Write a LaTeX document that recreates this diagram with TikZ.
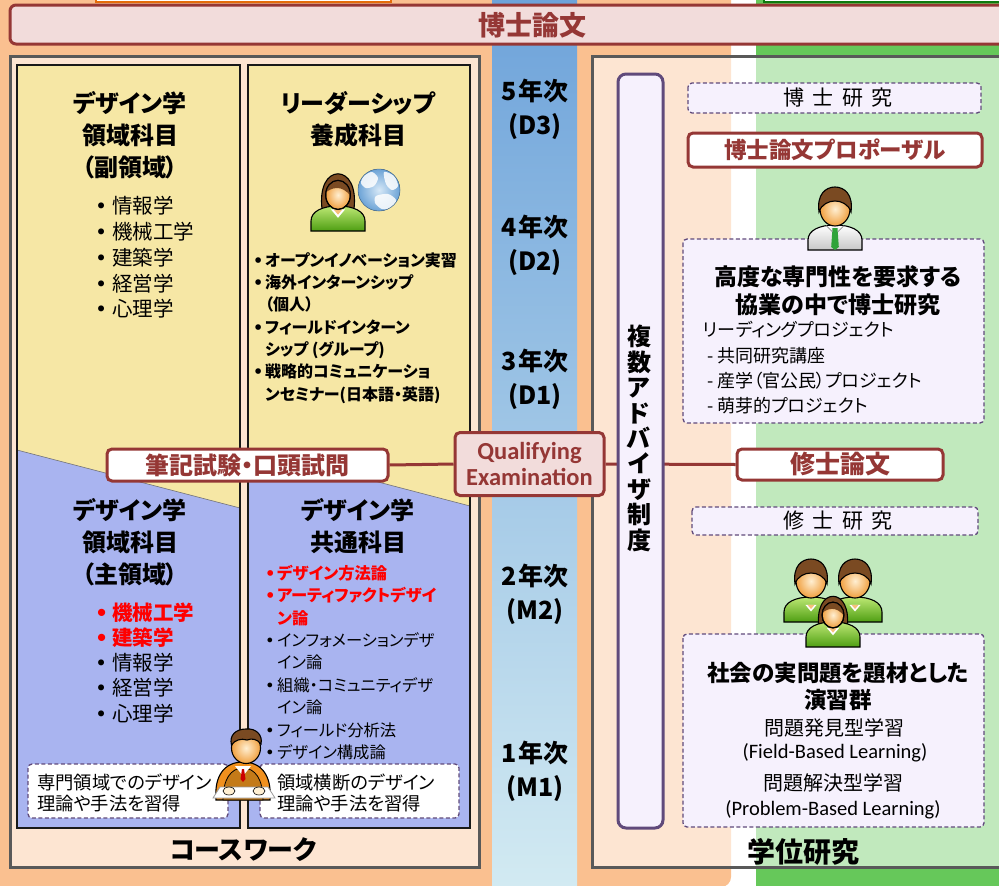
\documentclass[tikz,border=0pt]{standalone}
\usepackage{fontspec}
\setmainfont{Noto Sans CJK JP}[RawFeature=+palt]
\newfontfamily\latinfont{Carlito}
\newfontfamily\symbolfont{DejaVu Sans}
\usetikzlibrary{calc}

\definecolor{bgorange}{HTML}{FAC090}
\definecolor{bggreen}{HTML}{66C85A}
\definecolor{topframeorange}{HTML}{E46C0A}
\definecolor{topframegreen}{HTML}{0E7A0E}
\definecolor{colyellow}{HTML}{F6E7A5}
\definecolor{collav}{HTML}{A9B4F0}
\definecolor{darkred}{HTML}{953735}
\definecolor{pinkfill}{HTML}{F2DCDB}
\definecolor{purpleline}{HTML}{604A7B}
\definecolor{lavfill}{HTML}{F6F1FD}
\definecolor{framegray}{HTML}{595959}
\definecolor{stripblue}{HTML}{6EA3DA}
\definecolor{stripcyan}{HTML}{D2EAF2}
\definecolor{alertred}{HTML}{FF0000}
\definecolor{skinhi}{HTML}{FFEFD2}
\definecolor{skinlo}{HTML}{F0A040}
\definecolor{hairbrown}{HTML}{7A4A22}
\definecolor{shirthi}{HTML}{BDE874}
\definecolor{shirtlo}{HTML}{4E9E12}
\definecolor{tiegreen}{HTML}{2FA33A}
\definecolor{globelight}{HTML}{D6E8F7}
\definecolor{globeblue}{HTML}{6CA3D6}
\definecolor{sweater}{HTML}{C47A18}
\definecolor{capeorange}{HTML}{F0901E}

\newcommand\fsz[2]{\fontsize{#1}{#2}\selectfont}
\newcommand\bul{\makebox[20pt][l]{\hspace*{3pt}{\symbolfont •}}}
\newcommand\sbul{\makebox[12pt][l]{{\symbolfont •}}}
\newcommand\cont{\hspace*{12pt}}
\newcommand\alert[1]{{\color{alertred}\bfseries #1}}

\tikzset{
  iconline/.style={draw=black, line width=1.1pt},
  frame/.style={draw=framegray, line width=3pt, fill=white, fill opacity=0.6},
  colborder/.style={draw=black!90, line width=1.8pt},
  redbox/.style={draw=darkred, line width=3pt, fill=white, rounded corners=5pt,
    inner sep=0pt, text=darkred, font=\bfseries\fsz{24}{28}},
  dashbox/.style={draw=purpleline, line width=1.3pt, dash pattern=on 4pt off 2.5pt,
    fill=lavfill, rounded corners=4pt},
  notebox/.style={dashbox, fill=white},
  heading/.style={font=\bfseries\fsz{24}{32}, align=center, inner sep=0pt},
  yearlabel/.style={font=\bfseries\fsz{25}{34}, align=center, inner sep=0pt},
  plain/.style={inner sep=0pt},
  connector/.style={draw=darkred, line width=3pt},
  pics/shoulders/.style={code={
    \draw[iconline, #1] (-27,0) -- (-27,-10) .. controls (-27,-20) and (-15,-25) .. (0,-25)
      .. controls (15,-25) and (27,-20) .. (27,-10) -- (27,0) -- cycle;
  }},
  pics/malehead/.style={code={
    \draw[iconline, inner color=skinhi, outer color=skinlo] (0,-41) ellipse [x radius=15, y radius=17];
    \draw[iconline, fill=hairbrown] (-16,-38) .. controls (-18.5,-56) and (-9,-63) .. (0,-63)
      .. controls (9,-63) and (18.5,-56) .. (16,-38) .. controls (13.5,-46) and (6,-49) .. (0,-49)
      .. controls (-6,-49) and (-13.5,-46) .. (-16,-38) -- cycle;
  }},
  pics/manwithtie/.style={code={
    \pic {shoulders={top color=white, bottom color=black!22}};
    \fill[tiegreen] (-2.5,-22) -- (2.5,-22) -- (3.8,-3) -- (0,0) -- (-3.8,-3) -- cycle;
    \draw[black!45, line width=0.7pt] (-9,-24.5) -- (-2.5,-18) (9,-24.5) -- (2.5,-18);
    \pic {malehead};
  }},
  pics/mangreen/.style={code={
    \pic {shoulders={top color=shirthi, bottom color=shirtlo}};
    \fill[white] (-8,-24.5) -- (0,-15) -- (8,-24.5) -- cycle;
    \fill[skinlo!60!skinhi] (-5,-24.5) -- (0,-18.5) -- (5,-24.5) -- cycle;
    \pic {malehead};
  }},
  pics/womangreen/.style={code={
    \draw[iconline, fill=hairbrown] (-18,-24) .. controls (-21.5,-50) and (-12,-65) .. (0,-65)
      .. controls (12,-65) and (21.5,-50) .. (18,-24) -- cycle;
    \pic {shoulders={top color=shirthi, bottom color=shirtlo}};
    \fill[white] (-8,-24.5) -- (0,-15) -- (8,-24.5) -- cycle;
    \fill[skinlo!60!skinhi] (-5,-24.5) -- (0,-18.5) -- (5,-24.5) -- cycle;
    \draw[iconline, inner color=skinhi, outer color=skinlo] (0,-41) ellipse [x radius=14, y radius=16.5];
    \begin{scope}
      \clip (0,-41) ellipse [x radius=14, y radius=16.5];
      \fill[hairbrown] (-15,-43) .. controls (-8,-49) and (4,-54) .. (15,-39) -- (15,-62) -- (-15,-62) -- cycle;
    \end{scope}
    \draw[iconline] (0,-41) ellipse [x radius=14, y radius=16.5];
  }},
}

\begin{document}
\begin{tikzpicture}[x=1pt, y=-1pt]
\useasboundingbox (0,0) rectangle (999,886);

% coloured backdrop bands
\fill[bgorange, rounded corners=10pt] (-20,-20) rectangle (731,887);
\fill[bggreen, rounded corners=10pt] (756,-20) rectangle (1030,900);
\draw[topframeorange, line width=1.5pt, fill=white] (96,-20) rectangle (391,2);
\draw[topframegreen, line width=2pt, fill=white] (764,-20) rectangle (1030,2);

% year axis
\shade[top color=stripblue, bottom color=stripcyan] (492,0) rectangle (577,886);

% doctoral thesis banner
\draw[draw=darkred, line width=3pt, fill=pinkfill, rounded corners=6pt] (10,5) rectangle (1012,44);
\node[plain, text=darkred, font=\bfseries\fsz{27}{30}] (phdthesis) at (532,25) {博士論文};

% coursework frame, degree research frame
\draw[frame] (10,56) rectangle (479,867);
\draw[frame] (592,56) rectangle (1012,867);

% two coursework columns, yellow above the slanted divide, blue below
\fill[colyellow] (17,65) -- (240,65) -- (240,508) -- (17,450) -- cycle;
\fill[collav] (17,450) -- (240,508) -- (240,828) -- (17,828) -- cycle;
\draw[black!55, line width=0.6pt] (17,450) -- (240,508);
\draw[colborder] (17,65) rectangle (240,828);

\fill[colyellow] (248,65) -- (470,65) -- (470,506) -- (248,448) -- cycle;
\fill[collav] (248,448) -- (470,506) -- (470,828) -- (248,828) -- cycle;
\draw[black!55, line width=0.6pt] (248,448) -- (470,506);
\draw[colborder] (248,65) rectangle (470,828);

% column headings
\node[heading] (subarea) at (130,135) {デザイン学\\領域科目\\（副領域）};
\node[heading] (leader) at (358,119.5) {リーダーシップ\\養成科目};
\node[heading] (mainarea) at (130,542) {デザイン学\\領域科目\\（主領域）};
\node[heading] (common) at (358,526) {デザイン学\\共通科目};

% subject lists
\node[plain, anchor=west, align=left, font=\fsz{20.5}{25.75}] (sublist) at (92,257.5)
  {\bul 情報学\\\bul 機械工学\\\bul 建築学\\\bul 経営学\\\bul 心理学};
\node[plain, anchor=west, align=left, font=\bfseries\fsz{16}{22.33}] (leaderlist) at (253,328)
  {\sbul オープンイノベーション実習\\\sbul 海外インターンシップ\\\cont （個人）\\%
   \sbul フィールドインターン\\\cont シップ (グループ)\\\sbul 戦略的コミュニケーショ\\%
   \cont ンセミナー(日本語・英語)};
\node[plain, anchor=west, align=left, font=\fsz{20.5}{25.25}] (mainlist) at (92,662.5)
  {\alert{\bul 機械工学}\\\alert{\bul 建築学}\\\bul 情報学\\\bul 経営学\\\bul 心理学};
\node[plain, anchor=west, align=left, font=\fsz{16.3}{22.4}] (commonlist) at (265,662.5)
  {\alert{\sbul デザイン方法論}\\\alert{\sbul アーティファクトデザイ}\\\alert{\cont ン論}\\%
   \sbul インフォメーションデザ\\\cont イン論\\\sbul 組織・コミュニティデザ\\\cont イン論\\%
   \sbul フィールド分析法\\\sbul デザイン構成論};

% notes at the foot of the columns
\draw[notebox] (28,764) rectangle (228,818);
\node[plain, anchor=west, align=left, font=\fsz{18.3}{21}] (leftnote) at (37,792.5)
  {専門領域でのデザイン\\理論や手法を習得};
\draw[notebox] (260,764) rectangle (459,818);
\node[plain, anchor=west, align=left, font=\fsz{18.3}{21}] (rightnote) at (277,792.5)
  {領域横断のデザイン\\理論や手法を習得};

\node[plain, font=\bfseries\fsz{26}{30}] (coursework) at (243,850) {コースワーク};

% year labels
\node[yearlabel] (y5) at (535,109) {5\hspace{2pt}年次\\(D3)};
\node[yearlabel] (y4) at (535,245) {4\hspace{2pt}年次\\(D2)};
\node[yearlabel] (y3) at (535,379) {3\hspace{2pt}年次\\(D1)};
\node[yearlabel] (y2) at (535,594.5) {2\hspace{2pt}年次\\(M2)};
\node[yearlabel] (y1) at (535,771.5) {1\hspace{2pt}年次\\(M1)};

% examinations and theses
\node[redbox, minimum width=281pt, minimum height=32pt] (written) at (247.5,465) {筆記試験・口頭試問};
\node[redbox, fill=pinkfill, minimum width=149pt, minimum height=63pt, align=center,
      font=\latinfont\bfseries\fsz{24.5}{25.5}] (qual) at (529.5,464) {Qualifying\\Examination};
\node[redbox, minimum width=206pt, minimum height=31pt, font=\bfseries\fsz{25}{28}] (master) at (840,464.5) {修士論文};
\draw[connector] (written.east) -- (qual.west);
\draw[connector] (qual.east) -- (master.west);

% multiple advisor system
\node[draw=purpleline, line width=3pt, fill=lavfill, rounded corners=8pt,
      minimum width=45pt, minimum height=754pt, inner sep=0pt] (advisor) at (640.5,451) {};
\node[plain, align=center, font=\bfseries\fsz{24}{25.4}] (advisortext) at (639,438.5)
  {複\\数\\ア\\ド\\バ\\イ\\ザ\\制\\度};

% degree research column
\draw[dashbox] (688,83) rectangle (981,113);
\node[plain, font=\fsz{21}{24}] (phdresearch) at (838,98) {博\hspace{0.4em}士\hspace{0.4em}研\hspace{0.4em}究};
\node[redbox, minimum width=294pt, minimum height=34pt, font=\bfseries\fsz{22.5}{26}] (proposal) at (835,150) {博士論文プロポーザル};

\draw[dashbox] (683,239) rectangle (984,423);
\node[plain, align=center, font=\bfseries\fsz{23}{28}] (collab) at (838,291)
  {高度な専門性を要求する\\協業の中で博士研究};
\node[plain, anchor=west, align=left, font=\fsz{18}{25.3}] (projects) at (703,368)
  {リーディングプロジェクト\\\hspace*{4pt}- 共同研究講座\\\hspace*{4pt}- 産学（官公民）プロジェクト\\\hspace*{4pt}- 萌芽的プロジェクト};

\draw[dashbox] (692,507) rectangle (978,535);
\node[plain, font=\fsz{21}{24}] (msresearch) at (838,521) {修\hspace{0.4em}士\hspace{0.4em}研\hspace{0.4em}究};

\draw[dashbox] (683,634) rectangle (984,827);
\node[plain, align=center, font=\bfseries\fsz{22.5}{27}] (exercises) at (838,686.5)
  {社会の実問題を題材とした\\演習群};
\node[plain, font=\fsz{20}{24}] (fbl) at (834,728) {問題発見型学習};
\node[plain, font=\latinfont\fsz{20.5}{24}] (fblen) at (835,753) {(Field-Based Learning)};
\node[plain, font=\fsz{20}{24}] (pbl) at (833,783) {問題解決型学習};
\node[plain, font=\latinfont\fsz{20.5}{24}] (pblen) at (833,810) {(Problem-Based Learning)};

\node[plain, font=\bfseries\fsz{28}{32}] (degree) at (803,852) {学位研究};

% globe beside the leadership icon
\coordinate (globecenter) at (379,190);
\fill[inner color=globelight, outer color=globeblue] (globecenter) circle [radius=21];
\begin{scope}
  \clip (globecenter) circle [radius=21];
  \fill[white, opacity=0.85] plot[smooth cycle] coordinates {(364,176) (372,172) (378,178) (374,186) (366,188) (361,183)};
  \fill[white, opacity=0.85] plot[smooth cycle] coordinates {(384,172) (394,176) (398,186) (392,190) (386,184)};
  \fill[white, opacity=0.85] plot[smooth cycle] coordinates {(376,196) (388,194) (396,200) (392,208) (382,209) (375,203)};
\end{scope}
\draw[globeblue!70!black, line width=0.5pt] (globecenter) circle [radius=21];

% people icons
\pic[scale=0.88] (globeuser) at (338,231) {womangreen};
\pic (supervisor) at (835,250) {manwithtie};
\pic[scale=0.7] (teamleft) at (811,622) {mangreen};
\pic[scale=0.7] (teamright) at (855,622) {mangreen};
\pic[scale=0.78] (teamfront) at (833,647) {womangreen};

% student at a keyboard
\draw[iconline, fill=capeorange] (216,800) .. controls (214,775) and (225,762) .. (243,762)
  .. controls (261,762) and (272,775) .. (270,800) -- cycle;
\draw[line width=0.8pt, fill=sweater] (223,800) .. controls (223,779) and (231,768) .. (243,768)
  .. controls (255,768) and (263,779) .. (263,800) -- cycle;
\fill[white] (235,766) -- (243,776) -- (251,766) -- cycle;
\fill[red!80!black] (242,769) -- (244,769) -- (245.5,779) -- (243,782) -- (240.5,779) -- cycle;
\draw[iconline, inner color=skinhi, outer color=skinlo] (246,748) ellipse [x radius=14.5, y radius=15.5];
\draw[iconline, fill=hairbrown] (231.5,745) .. controls (229,735) and (236,729) .. (246,729)
  .. controls (256,728) and (263,735) .. (261,744) .. controls (257,739) and (252,738) .. (247,740)
  .. controls (241,738) and (235,740) .. (231.5,745) -- cycle;
\draw[draw=black!40, line width=0.8pt, fill=white] (213,798) -- (220,787) -- (268,787) -- (275,798) -- cycle;
\draw[line width=0.6pt, fill=skinhi] (229,791) ellipse [x radius=6, y radius=4];
\draw[line width=0.6pt, fill=skinhi] (259,791) ellipse [x radius=6, y radius=4];

\end{tikzpicture}
\end{document}
